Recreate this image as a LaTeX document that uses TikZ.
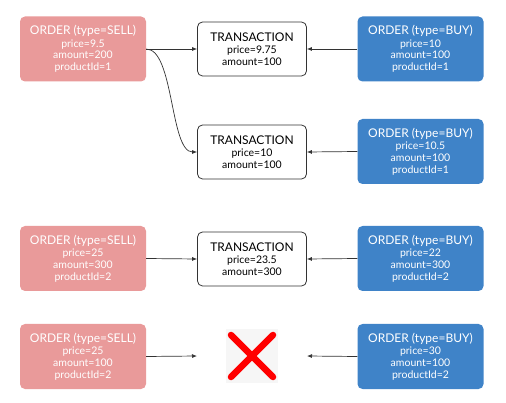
\documentclass[tikz,border=0pt]{standalone}
\usepackage{fontspec}
\setmainfont{Lato}
\usepackage{xcolor}
\usetikzlibrary{arrows.meta,positioning}
\definecolor{sellpink}{HTML}{E99A9A}
\definecolor{buyblue}{HTML}{3F83C8}
\definecolor{edgegray}{HTML}{333333}
\definecolor{crossbg}{HTML}{F6F6F6}
\newcommand{\titlefont}{\fontsize{12}{14}\selectfont}
\begin{document}
\begin{tikzpicture}[x=1pt,y=-1pt,
    order/.style={rectangle,rounded corners=5pt,minimum width=126pt,minimum height=65pt,
      text=white,align=center,font=\fontsize{10.5}{11.8}\selectfont,inner sep=0pt},
    sell/.style={order,fill=sellpink},
    buy/.style={order,fill=buyblue},
    trans/.style={rectangle,rounded corners=5pt,draw=edgegray,line width=0.8pt,
      minimum width=109pt,minimum height=54pt,align=center,
      font=\fontsize{10.5}{11.8}\selectfont,inner sep=0pt},
    link/.style={draw=edgegray,line width=0.7pt,-{Latex[length=5pt,width=4pt]}}]
    \useasboundingbox (0,0) rectangle (506,403);
    % sell orders
    \node[sell] (s1) at (83,49) {{\titlefont ORDER (type=SELL)}\\[0.5pt]price=9.5\\amount=200\\productId=1};
    \node[sell] (s3) at (83,258.5) {{\titlefont ORDER (type=SELL)}\\[0.5pt]price=25\\amount=300\\productId=2};
    \node[sell] (s4) at (83,356.5) {{\titlefont ORDER (type=SELL)}\\[0.5pt]price=25\\amount=100\\productId=2};
    % buy orders
    \node[buy] (b1) at (420.5,49) {{\titlefont ORDER (type=BUY)}\\[0.5pt]price=10\\amount=100\\productId=1};
    \node[buy] (b2) at (420.5,151.5) {{\titlefont ORDER (type=BUY)}\\[0.5pt]price=10.5\\amount=100\\productId=1};
    \node[buy] (b3) at (420.5,258.5) {{\titlefont ORDER (type=BUY)}\\[0.5pt]price=22\\amount=300\\productId=2};
    \node[buy] (b4) at (420.5,356.5) {{\titlefont ORDER (type=BUY)}\\[0.5pt]price=30\\amount=100\\productId=2};
    % transactions
    \node[trans] (t1) at (252,49) {{\titlefont TRANSACTION}\\[0.5pt]price=9.75\\amount=100};
    \node[trans] (t2) at (252,152) {{\titlefont TRANSACTION}\\[0.5pt]price=10\\amount=100};
    \node[trans] (t3) at (252,259) {{\titlefont TRANSACTION}\\[0.5pt]price=23.5\\amount=300};
    % no match
    \node[rectangle,fill=crossbg,minimum width=52pt,minimum height=54pt,inner sep=0pt] (x) at (252,356) {};
    \draw[red,line width=6.5pt,line cap=round] (231,335) -- (273,377);
    \draw[red,line width=6.5pt,line cap=round] (231,377) -- (273,335);
    \coordinate (xl) at (197,356);
    \coordinate (xr) at (307,356);
    % arrows
    \draw[link] (s1.east) -- (t1.west);
    \draw[link] (s1.east) .. controls (174,49) and (170,152) .. (t2.west);
    \draw[link] (b1.west) -- (t1.east);
    \draw[link] (b2.west) -- (t2.east);
    \draw[link] (s3.east) -- (t3.west);
    \draw[link] (b3.west) -- (t3.east);
    \draw[link] (s4.east) -- (xl);
    \draw[link] (b4.west) -- (xr);
  \end{tikzpicture}
\end{document}
